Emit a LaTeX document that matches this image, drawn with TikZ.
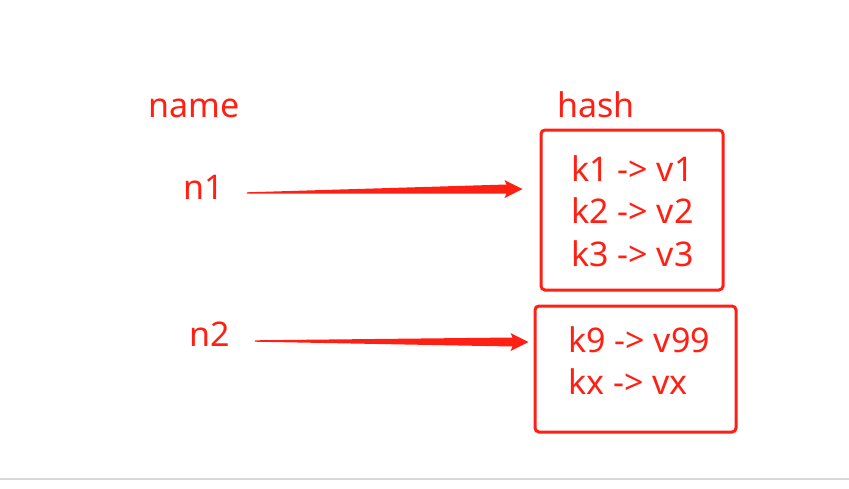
\documentclass[tikz,border=0pt]{standalone}
\usepackage{fontspec}
\setmainfont{Noto Sans}
\usepackage{tikz}
\usetikzlibrary{calc}

\definecolor{hashred}{RGB}{255,32,20}
\definecolor{rulegray}{RGB}{216,216,216}

\newcommand{\taperarrow}[2]{%
  \fill[hashred] ($(#1)+(0,-0.7)$) -- ($(#2)+(-16,-4.5)$) -- ($(#2)+(-18,-9)$) -- (#2)
    -- ($(#2)+(-18,9)$) -- ($(#2)+(-16,4.5)$) -- ($(#1)+(0,0.7)$) -- cycle;}

\begin{document}
\begin{tikzpicture}[x=1pt, y=-1pt,
    lbl/.style={text=hashred, font=\fontsize{34}{42.5}\selectfont, inner sep=0pt, align=left},
    bucket/.style={draw=hashred, line width=3pt, rounded corners=4pt, inner sep=0pt}]

    \useasboundingbox (0,0) rectangle (849,488);
    \draw[rulegray, line width=1.5pt] (0,479) -- (849,479);

    \node[lbl, anchor=base west] (name) at (148,117) {name};
    \node[lbl, anchor=base west] (hash) at (557,117) {hash};
    \node[lbl, anchor=base west] (n1) at (183,199) {n1};
    \node[lbl, anchor=base west] (n2) at (189,346) {n2};

    \node[bucket, minimum width=182, minimum height=160] (box1) at (632,210) {};
    \node[bucket, minimum width=201, minimum height=126] (box2) at (635.5,369) {};

    \node[lbl, anchor=north west] (pairs1) at (571,155) {k1 -> v1\\k2 -> v2\\k3 -> v3};
    \node[lbl, anchor=north west] (pairs2) at (568,326) {k9 -> v99\\kx -> vx};

    \coordinate (s1) at ($(n1.base east)+(23,-6)$);
    \coordinate (t1) at ($(box1.west)+(-17,-21)$);
    \coordinate (s2) at ($(n2.base east)+(25,-5)$);
    \coordinate (t2) at ($(box2.west)+(-5,-27)$);

    \taperarrow{s1}{t1}
    \taperarrow{s2}{t2}
\end{tikzpicture}
\end{document}
